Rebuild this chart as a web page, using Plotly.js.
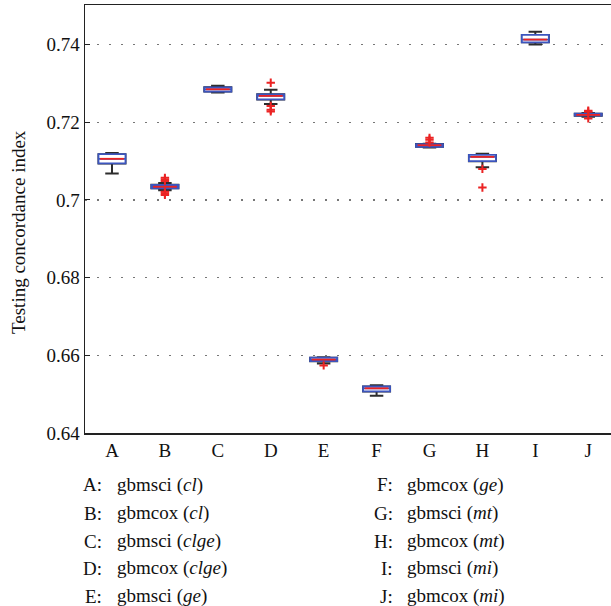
<!DOCTYPE html>
<html>
<head>
<meta charset="utf-8">
<script src="https://cdn.plot.ly/plotly-3.0.1.min.js"></script>
<style>html,body{margin:0;padding:0;background:#fff;}#chart{width:611px;height:606px;}</style>
</head>
<body>
<div id="chart"></div>
<script>
// ---- data ----
const categories = ['A','B','C','D','E','F','G','H','I','J'];
const methodNames = ['gbmsci','gbmcox','gbmsci','gbmcox','gbmsci','gbmcox','gbmsci','gbmcox','gbmsci','gbmcox'];
const featureSets = ['cl','cl','clge','clge','ge','ge','mt','mt','mi','mi'];
const lowerWhisker = [0.7068, 0.7025, 0.7277, 0.7247, 0.6579, 0.6496, 0.7135, 0.7084, 0.7400, 0.7214];
const q1Values     = [0.7094, 0.7030, 0.7279, 0.7259, 0.6585, 0.6507, 0.7137, 0.7100, 0.7406, 0.7217];
const medianValues = [0.7106, 0.7034, 0.7285, 0.7268, 0.6589, 0.6515, 0.7141, 0.7111, 0.7413, 0.7219];
const q3Values     = [0.7118, 0.7039, 0.7290, 0.7272, 0.6594, 0.6520, 0.7144, 0.7116, 0.7425, 0.7222];
const upperWhisker = [0.7121, 0.7044, 0.7294, 0.7284, 0.6595, 0.6523, 0.7145, 0.7119, 0.7433, 0.7224];
const outlierValues = [
  [],
  [0.7057, 0.7053, 0.7049, 0.7021, 0.7017, 0.7013],
  [],
  [0.7302, 0.7242, 0.7232, 0.7228],
  [0.6574],
  [],
  [0.7160, 0.7155, 0.7148],
  [0.7080, 0.7032],
  [],
  [0.7230, 0.7227, 0.7210]
];
const yTickVals = [0.64, 0.66, 0.68, 0.70, 0.72, 0.74];
const yTickText = ['0.64','0.66','0.68','0.7','0.72','0.74'];
const yTitle = 'Testing concordance index';

// ---- styling ----
const BOX_W = 0.51;
const FONT = 'Liberation Serif, DejaVu Serif, serif';
const FS = 19;
const BLUE = 'rgb(60,85,190)';
const RED = 'rgb(235,35,35)';
const DARK = 'rgb(45,45,45)';

const traces = [];
categories.forEach((c, i) => {
  // whiskers (dark)
  traces.push({
    type: 'box', x: [i], q1: [q1Values[i]], median: [medianValues[i]], q3: [q3Values[i]],
    lowerfence: [lowerWhisker[i]], upperfence: [upperWhisker[i]],
    width: BOX_W, whiskerwidth: 0.5, boxpoints: false,
    line: {color: DARK, width: 2}, fillcolor: 'white', hoverinfo: 'skip'
  });
  // box body (blue)
  traces.push({
    type: 'box', x: [i], q1: [q1Values[i]], median: [medianValues[i]], q3: [q3Values[i]],
    lowerfence: [q1Values[i]], upperfence: [q3Values[i]],
    width: BOX_W, whiskerwidth: 0, boxpoints: false,
    line: {color: BLUE, width: 1.8}, fillcolor: 'white', hoverinfo: 'skip'
  });
});
// median lines (red)
const mx = [], my = [];
categories.forEach((c, i) => {
  mx.push(i - BOX_W / 2 + 0.03, i + BOX_W / 2 - 0.03, null);
  my.push(medianValues[i], medianValues[i], null);
});
traces.push({type: 'scatter', mode: 'lines', x: mx, y: my, line: {color: RED, width: 1.8}, hoverinfo: 'skip'});
// outliers
const ox = [], oy = [];
outlierValues.forEach((arr, i) => arr.forEach(v => { ox.push(i); oy.push(v); }));
traces.push({type: 'scatter', mode: 'markers', x: ox, y: oy,
  marker: {symbol: 'cross-thin', size: 6, line: {color: RED, width: 2}}, hoverinfo: 'skip'});

// legend text below the plot (pixel helpers)
const W = 611, H = 606, ML = 85, MR = 0, MT = 5, MB = 173;
const px2x = p => (p - ML) / (W - ML - MR);
const py2y = p => (H - MB - p) / (H - MT - MB);
const annotations = [];
const rowY = [485, 513, 541, 568, 596];
categories.forEach((c, i) => {
  const col = i < 5 ? 0 : 1;
  const row = i % 5;
  const colonX = col === 0 ? 104 : 395;
  const nameX = col === 0 ? 115 : 405;
  annotations.push({xref: 'paper', yref: 'paper', x: px2x(colonX), y: py2y(rowY[row]),
    xanchor: 'right', yanchor: 'middle', showarrow: false, text: c + ':',
    font: {family: FONT, size: FS, color: '#111'}});
  annotations.push({xref: 'paper', yref: 'paper', x: px2x(nameX), y: py2y(rowY[row]),
    xanchor: 'left', yanchor: 'middle', showarrow: false,
    text: methodNames[i] + ' (<i>' + featureSets[i] + '</i>)',
    font: {family: FONT, size: FS, color: '#111'}});
});
// y-axis title as rotated text
annotations.push({xref: 'paper', yref: 'paper', x: px2x(18), y: py2y(232),
  xanchor: 'center', yanchor: 'middle', showarrow: false, textangle: -90, text: yTitle,
  font: {family: FONT, size: FS, color: '#111'}});

const layout = {
  width: W, height: H,
  margin: {l: ML, r: MR, t: MT, b: MB},
  paper_bgcolor: 'white', plot_bgcolor: 'white',
  showlegend: false, boxmode: 'overlay',
  font: {family: FONT, size: FS, color: '#111'},
  xaxis: {
    range: [-0.51, 9.43], tickvals: categories.map((c, i) => i), ticktext: categories,
    showline: true, mirror: true, linecolor: '#222', linewidth: 1.5,
    showgrid: false, zeroline: false, ticks: '', fixedrange: true,
    tickfont: {family: FONT, size: FS, color: '#111'}
  },
  yaxis: {
    range: [0.64, 0.7502], tickvals: yTickVals, ticktext: yTickText,
    showline: true, linecolor: '#222', linewidth: 1.5,
    ticks: 'inside', ticklen: 5, tickcolor: '#222',
    showgrid: true, gridcolor: '#777', gridwidth: 1.5, griddash: '2px,10px',
    zeroline: false, fixedrange: true,
    tickfont: {family: FONT, size: FS, color: '#111'}
  },
  annotations: annotations
};

Plotly.newPlot('chart', traces, layout, {displayModeBar: false, staticPlot: true});
</script>
</body>
</html>
